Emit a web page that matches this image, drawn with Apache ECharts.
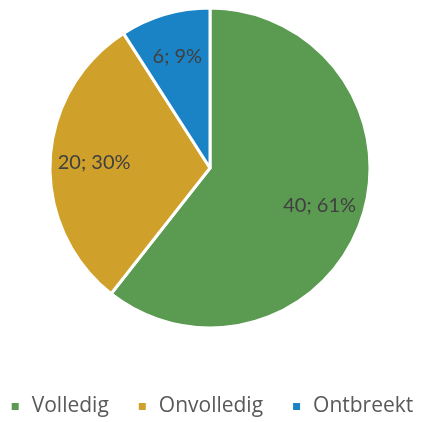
<!DOCTYPE html>
<html>
<head>
<meta charset="utf-8">
<script src="https://cdn.jsdelivr.net/npm/echarts@6/dist/echarts.min.js"></script>
<style>
html,body{margin:0;padding:0;background:#fff;}
#pie{width:423px;height:422px;}
</style>
</head>
<body>
<div id="pie"></div>
<script>
var categories = ['Volledig', 'Onvolledig', 'Ontbreekt'];
var values = [40, 20, 6];
var colorList = ['#5B9A51', '#D0A12A', '#1A83C5'];

var chart = echarts.init(document.getElementById('pie'));

function makeData(){
	var res = [];
	for (var i = 0; i < categories.length; i++) {
		res.push({name: categories[i], value: values[i]});
	}
	return res;
}

var option = {
	color: colorList,
	animation: false,
	legend: {
		bottom: 0,
		left: 'center',
		icon: 'rect',
		itemWidth: 9,
		itemHeight: 9,
		itemGap: 28,
		textStyle: {
			color: '#595959',
			fontSize: 21,
			fontFamily: 'Open Sans',
			padding: [0, 0, 0, 7]
		},
		data: categories
	},
	series: [
		{
			// the pie itself
			type: 'pie',
			center: [210, 168],
			radius: 160,
			startAngle: 90,
			clockwise: true,
			silent: true,
			itemStyle: {borderColor: '#fff', borderWidth: 3},
			label: {show: false},
			labelLine: {show: false},
			data: makeData()
		},
		{
			// labels only, placed further out than the default middle
			type: 'pie',
			center: [210, 168],
			radius: [66, 160],
			startAngle: 90,
			clockwise: true,
			silent: true,
			legendHoverLink: false,
			itemStyle: {color: 'rgba(0,0,0,0)', borderWidth: 0},
			label: {
				show: true,
				position: 'inside',
				formatter: function(p){ return p.value + '; ' + Math.round(p.percent) + '%'; },
				color: '#404040',
				fontSize: 20,
				fontFamily: 'Lato'
			},
			labelLine: {show: false},
			data: makeData()
		}
	]
};

chart.setOption(option);
</script>
</body>
</html>
